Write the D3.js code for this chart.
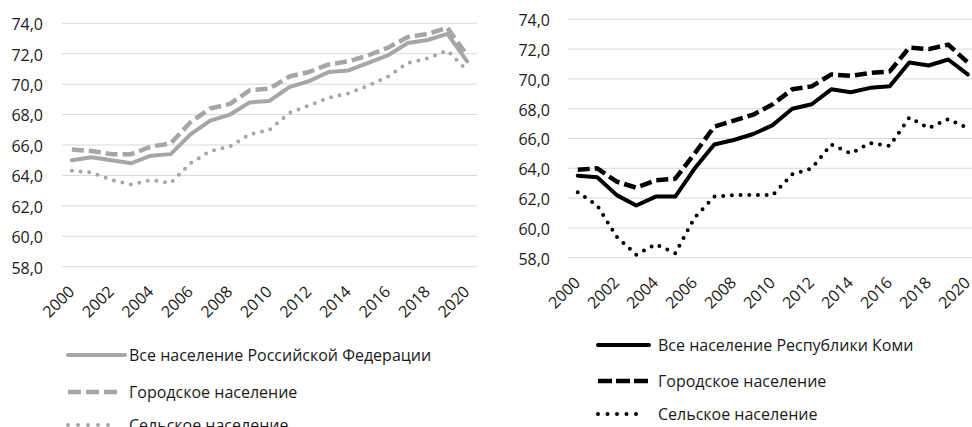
<!DOCTYPE html>
<html>
<head>
<meta charset="utf-8">
<script src="https://cdn.jsdelivr.net/npm/d3@7"></script>
<style>
  body { margin: 0; background: #fff; }
  svg { display: block; }
  text { font-family: "Open Sans", sans-serif; fill: #1a1a1a; }
</style>
</head>
<body>
<svg id="chart" width="972" height="427"></svg>
<script>
// годы (категории)
const years = [2000, 2001, 2002, 2003, 2004, 2005, 2006, 2007, 2008, 2009, 2010,
               2011, 2012, 2013, 2014, 2015, 2016, 2017, 2018, 2019, 2020];
const yearLabels = [2000, 2002, 2004, 2006, 2008, 2010, 2012, 2014, 2016, 2018, 2020];
const yTicks = [58, 60, 62, 64, 66, 68, 70, 72, 74];

// Российская Федерация
const rfTotal = [65.0, 65.2, 65.0, 64.8, 65.3, 65.4, 66.7, 67.6, 68.0, 68.8, 68.9,
                 69.8, 70.2, 70.8, 70.9, 71.4, 71.9, 72.7, 72.9, 73.3, 71.5];
const rfUrban = [65.7, 65.6, 65.4, 65.4, 65.9, 66.1, 67.5, 68.4, 68.7, 69.6, 69.7,
                 70.5, 70.8, 71.3, 71.5, 71.9, 72.4, 73.1, 73.3, 73.7, 71.9];
const rfRural = [64.3, 64.2, 63.7, 63.4, 63.7, 63.5, 64.8, 65.6, 65.9, 66.7, 67.0,
                 68.1, 68.6, 69.1, 69.4, 69.9, 70.5, 71.4, 71.7, 72.2, 70.9];

// Республика Коми
const komiTotal = [63.5, 63.4, 62.2, 61.5, 62.1, 62.1, 64.0, 65.6, 65.9, 66.3, 66.9,
                   68.0, 68.3, 69.3, 69.1, 69.4, 69.5, 71.1, 70.9, 71.3, 70.3];
const komiUrban = [63.9, 64.0, 63.1, 62.7, 63.2, 63.3, 65.0, 66.8, 67.2, 67.6, 68.3,
                   69.3, 69.5, 70.3, 70.2, 70.4, 70.5, 72.1, 72.0, 72.3, 71.1];
const komiRural = [62.4, 61.5, 59.4, 58.2, 58.9, 58.3, 60.7, 62.1, 62.2, 62.2, 62.2,
                   63.6, 64.0, 65.6, 65.0, 65.7, 65.5, 67.4, 66.7, 67.3, 66.7];

const legendRF = ["Все население Российской Федерации", "Городское население", "Сельское население"];
const legendKomi = ["Все население Республики Коми", "Городское население", "Сельское население"];

const ru = d3.formatLocale({decimal: ",", thousands: " ", grouping: [3], currency: ["", " ₽"]});
const fmt = ru.format(".1f");

const svg = d3.select("#chart");

function panel(opt) {
  const x = d3.scalePoint().domain(years).range([opt.x0, opt.x1]).padding(0.5);
  const y = d3.scaleLinear().domain([58, 74]).range([opt.yBottom, opt.yTop]);
  const g = svg.append("g");

  // сетка
  g.append("g")
    .selectAll("line")
    .data(yTicks)
    .enter()
    .append("line")
    .attr("x1", opt.x0)
    .attr("x2", opt.x1)
    .attr("y1", d => y(d))
    .attr("y2", d => y(d))
    .attr("stroke", "#d9d9d9")
    .attr("stroke-width", 1);

  // ось Y
  const yAxis = g.append("g")
    .attr("transform", `translate(${opt.x0},0)`)
    .call(d3.axisLeft(y).tickValues(yTicks).tickFormat(fmt).tickSize(0).tickPadding(opt.yPad));
  yAxis.select(".domain").remove();
  yAxis.selectAll("text")
    .style("font-size", "16px")
    .style("font-family", "Open Sans, sans-serif")
    .attr("fill", "#1a1a1a")
    .attr("dy", "0.4em");

  // ось X
  const xAxis = g.append("g")
    .attr("transform", `translate(0,${opt.yBottom})`)
    .call(d3.axisBottom(x).tickValues(yearLabels).tickSize(0));
  xAxis.select(".domain").remove();
  xAxis.selectAll("text")
    .style("font-size", "16px")
    .style("font-family", "Open Sans, sans-serif")
    .attr("fill", "#1a1a1a")
    .attr("text-anchor", "end")
    .attr("x", 0)
    .attr("y", 0)
    .attr("dy", "0.35em")
    .attr("transform", `translate(-1,${opt.xLabOff}) rotate(-45)`);

  const line = d3.line()
    .x((d, i) => x(years[i]))
    .y(d => y(d));

  opt.series.forEach(s => {
    g.append("path")
      .datum(s.values)
      .attr("d", line)
      .attr("fill", "none")
      .attr("stroke", opt.color)
      .attr("stroke-width", s.width)
      .attr("stroke-dasharray", s.dash)
      .attr("stroke-linecap", s.cap)
      .attr("stroke-linejoin", "round");
  });

  // легенда
  const leg = g.append("g");
  opt.series.forEach((s, i) => {
    const ly = opt.legY[i];
    leg.append("line")
      .attr("x1", opt.legX0)
      .attr("x2", opt.legEnd[i])
      .attr("y1", ly)
      .attr("y2", ly)
      .attr("stroke", opt.color)
      .attr("stroke-width", s.width)
      .attr("stroke-dasharray", s.legDash)
      .attr("stroke-linecap", s.cap);
    leg.append("text")
      .attr("x", opt.legText)
      .attr("y", ly)
      .attr("dy", "0.35em")
      .style("font-size", "16px")
      .text(opt.legend[i]);
  });
}

panel({
  x0: 62, x1: 477, yTop: 23.3, yBottom: 266.7, yPad: 19, xLabOff: 22,
  color: "#a6a6a6",
  legend: legendRF,
  legX0: 68, legEnd: [125, 118, 118], legText: 129, legY: [355, 392, 425],
  series: [
    {values: rfTotal, width: 4, dash: null, legDash: null, cap: "round"},
    {values: rfUrban, width: 4.5, dash: "12,5", legDash: "13,5", cap: "butt"},
    {values: rfRural, width: 4, dash: "0,8.7", legDash: "0,10", cap: "round"}
  ]
});

panel({
  x0: 568, x1: 977.5, yTop: 19.3, yBottom: 257.7, yPad: 18, xLabOff: 22,
  color: "#000000",
  legend: legendKomi,
  legX0: 598, legEnd: [649, 648, 643], legText: 658, legY: [345, 381, 414],
  series: [
    {values: komiTotal, width: 4, dash: null, legDash: null, cap: "round"},
    {values: komiUrban, width: 4.5, dash: "12,5", legDash: "14,4", cap: "butt"},
    {values: komiRural, width: 4, dash: "0,8.7", legDash: "0,9.5", cap: "round"}
  ]
});
</script>
</body>
</html>
